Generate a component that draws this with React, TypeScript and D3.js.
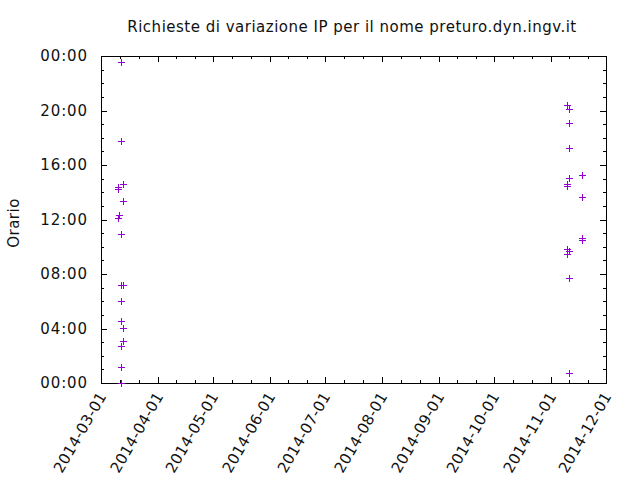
import React, { useEffect, useRef } from 'react'
import * as d3 from 'd3'

const W = 640
const H = 480

const chartTitle = 'Richieste di variazione IP per il nome preturo.dyn.ingv.it'
const yAxisLabel = 'Orario'

const xTickDates = [
  '2014-03-01', '2014-04-01', '2014-05-01', '2014-06-01', '2014-07-01',
  '2014-08-01', '2014-09-01', '2014-10-01', '2014-11-01', '2014-12-01',
]
const yTickHours = [0, 4, 8, 12, 16, 20, 24]

// one entry per request: day of the change and time of day
const requestDays = [
  '2014-03-10', '2014-03-10', '2014-03-10',
  '2014-03-11',
  '2014-03-12', '2014-03-12', '2014-03-12', '2014-03-12', '2014-03-12',
  '2014-03-12', '2014-03-12', '2014-03-12', '2014-03-12',
  '2014-03-13', '2014-03-13', '2014-03-13', '2014-03-13', '2014-03-13',
  '2014-11-10', '2014-11-10', '2014-11-10', '2014-11-10', '2014-11-10',
  '2014-11-11', '2014-11-11', '2014-11-11', '2014-11-11', '2014-11-11',
  '2014-11-11', '2014-11-11',
  '2014-11-18', '2014-11-18', '2014-11-18', '2014-11-18',
]
const requestTimes = [
  '14:25', '14:14', '12:05',
  '12:20',
  '23:35', '17:47', '10:56', '07:10', '06:02',
  '04:33', '02:43', '01:09', '00:02',
  '14:36', '13:20', '07:12', '04:02', '03:04',
  '20:24', '14:38', '14:27', '09:49', '09:27',
  '20:05', '19:04', '17:14', '15:04', '09:43',
  '07:41', '00:43',
  '15:16', '13:38', '10:39', '10:29',
]

const parseDay = d3.timeParse('%Y-%m-%d')
const toHours = (t: string) => {
  const [h, m] = t.split(':').map(Number)
  return h + m / 60
}
const fmtHour = (h: number) => `${String(h % 24).padStart(2, '0')}:00`

export default function App() {
  const svgRef = useRef<SVGSVGElement>(null)

  useEffect(() => {
    if (!svgRef.current) return
    const svg = d3.select(svgRef.current)
    svg.selectAll('*').remove()

    const left = 101, right = 606, top = 56, bottom = 383
    const font = '"DejaVu Sans", sans-serif'
    const ink = '#111'

    const xDates = xTickDates.map(d => parseDay(d) as Date)
    const x = d3.scaleTime()
      .domain([xDates[0], xDates[xDates.length - 1]])
      .range([left, right])
    const y = d3.scaleLinear().domain([0, 24]).range([bottom, top])

    svg.append('rect').attr('width', W).attr('height', H).attr('fill', '#fff')

    const ticks = svg.append('g')
      .attr('stroke', '#000')
      .attr('stroke-width', 1)
      .attr('shape-rendering', 'crispEdges')

    const major = 6, minor = 3

    // x ticks, mirrored on top; minor ticks split each month in thirds
    xDates.forEach((d, i) => {
      const px = Math.round(x(d)) + 0.5
      ticks.append('line').attr('x1', px).attr('x2', px).attr('y1', bottom).attr('y2', bottom - major)
      ticks.append('line').attr('x1', px).attr('x2', px).attr('y1', top).attr('y2', top + major)
      if (i < xDates.length - 1) {
        const a = x(d), b = x(xDates[i + 1])
        ;[1, 2].forEach(k => {
          const mx = Math.round(a + (b - a) * k / 3) + 0.5
          ticks.append('line').attr('x1', mx).attr('x2', mx).attr('y1', bottom).attr('y2', bottom - minor)
          ticks.append('line').attr('x1', mx).attr('x2', mx).attr('y1', top).attr('y2', top + minor)
        })
      }
    })

    // y ticks every hour, major every 4 hours, mirrored on the right
    d3.range(0, 25).forEach(h => {
      const py = Math.round(y(h)) + 0.5
      const len = h % 4 === 0 ? major : minor
      ticks.append('line').attr('x1', left).attr('x2', left + len).attr('y1', py).attr('y2', py)
      ticks.append('line').attr('x1', right).attr('x2', right - len).attr('y1', py).attr('y2', py)
    })

    // border
    svg.append('rect')
      .attr('x', left + 0.5).attr('y', top + 0.5)
      .attr('width', right - left).attr('height', bottom - top)
      .attr('fill', 'none').attr('stroke', '#000').attr('stroke-width', 1)
      .attr('shape-rendering', 'crispEdges')

    // y tick labels
    svg.append('g').selectAll('text')
      .data(yTickHours)
      .enter().append('text')
      .attr('x', 88)
      .attr('y', d => y(d))
      .attr('dy', '0.36em')
      .attr('text-anchor', 'end')
      .style('font-family', font)
      .style('font-size', '15px')
      .style('letter-spacing', '0.9px')
      .style('fill', ink)
      .text(d => fmtHour(d))

    // x tick labels, rotated by 60 degrees
    svg.append('g').selectAll('text')
      .data(xDates)
      .enter().append('text')
      .attr('transform', d => `translate(${x(d) + 6},396) rotate(-60)`)
      .attr('text-anchor', 'end')
      .style('font-family', font)
      .style('font-size', '15px')
      .style('letter-spacing', '0.3px')
      .style('fill', ink)
      .text(d => d3.timeFormat('%Y-%m-%d')(d))

    // title and axis label
    svg.append('text')
      .attr('x', 352).attr('y', 32)
      .attr('text-anchor', 'middle')
      .style('font-family', font)
      .style('font-size', '15px')
      .style('letter-spacing', '0.5px')
      .style('fill', ink)
      .text(chartTitle)

    svg.append('text')
      .attr('transform', 'translate(19,223) rotate(-90)')
      .attr('text-anchor', 'middle')
      .style('font-family', font)
      .style('font-size', '15px')
      .style('letter-spacing', '0.5px')
      .style('fill', ink)
      .text(yAxisLabel)

    // points drawn as "+" marks
    const pts = requestDays.map((d, i) => ({ day: parseDay(d) as Date, hour: toHours(requestTimes[i]) }))
    svg.append('g')
      .attr('stroke', '#9400d3')
      .attr('stroke-width', 1)
      .attr('fill', 'none')
      .attr('shape-rendering', 'crispEdges')
      .selectAll('path')
      .data(pts)
      .enter().append('path')
      .attr('d', p => {
        const cx = Math.round(x(p.day)) + 0.5
        const cy = Math.round(y(p.hour)) + 0.5
        return `M${cx - 3.5},${cy}h7M${cx},${cy - 3.5}v7`
      })
  }, [])

  return (
    <svg
      ref={svgRef}
      width={W}
      height={H}
      style={{ position: 'absolute', left: 0, top: 0 }}
    />
  )
}
